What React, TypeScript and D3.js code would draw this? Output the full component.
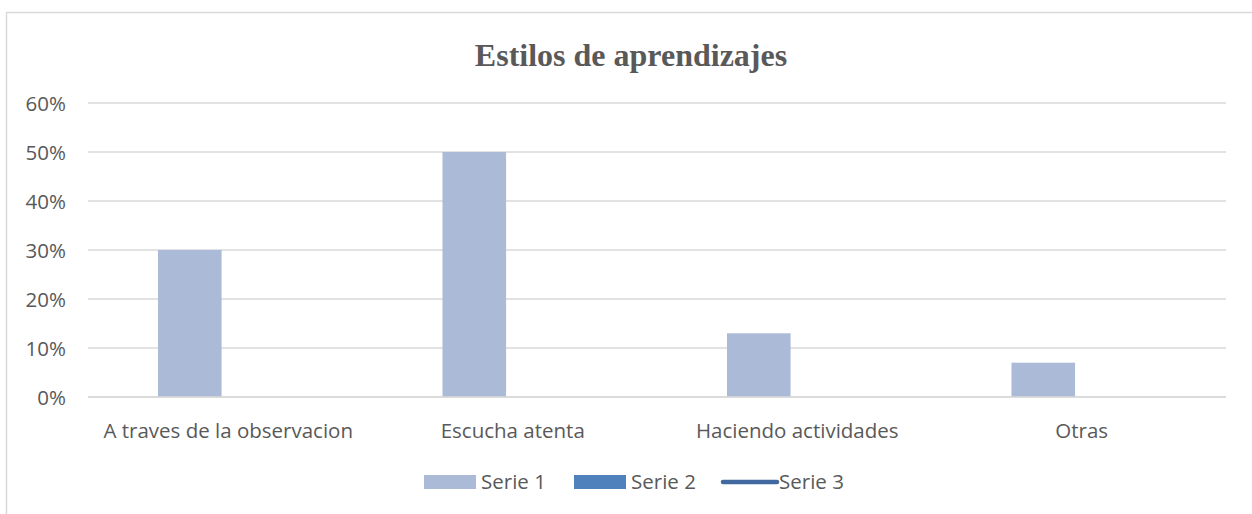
import React, { useRef, useEffect } from 'react';
import * as d3 from 'd3';

const categories = ['A traves de la observacion', 'Escucha atenta', 'Haciendo actividades', 'Otras'];
const serie1 = [0.3, 0.5, 0.13, 0.07];
const seriesNames = ['Serie 1', 'Serie 2', 'Serie 3'];
const yTicks = [0, 0.1, 0.2, 0.3, 0.4, 0.5, 0.6];

const App = () => {
    const svgRef = useRef<SVGSVGElement>(null);
    const width = 1252;
    const height = 514;

    useEffect(() => {
        const svg = d3.select(svgRef.current);
        svg.selectAll('*').remove();

        const font = '"Open Sans", sans-serif';
        const fontSize = 20.5;
        const textColor = '#595959';

        // outer chart border (box runs off the right and bottom edges)
        svg.append('rect')
            .attr('x', 6.5).attr('y', 12.5)
            .attr('width', width + 10).attr('height', height + 10)
            .attr('fill', '#fff').attr('stroke', '#d9d9d9').attr('stroke-width', 1.5);

        svg.append('text')
            .attr('x', 631).attr('y', 66)
            .attr('text-anchor', 'middle')
            .attr('font-family', '"Liberation Serif", "Times New Roman", serif')
            .attr('font-weight', 'bold').attr('font-size', 32)
            .attr('fill', textColor)
            .text('Estilos de aprendizajes');

        const margin = { left: 88, right: 26, top: 103, bottom: 117 };
        const x = d3.scaleBand().domain(categories).range([margin.left, width - margin.right]);
        const y = d3.scaleLinear().domain([0, 0.6]).range([height - margin.bottom, margin.top]);

        // bar slots inside each category band (series 1 & 2 are bars, series 3 a line)
        const bw = x.bandwidth();
        const x1 = d3.scaleBand().domain(['Serie 1', 'Serie 2']).range([bw * 0.246, bw * 0.246 + bw * 0.447]);

        const g = svg.append('g');

        g.selectAll('line.grid')
            .data(yTicks)
            .enter()
            .append('line')
            .attr('x1', margin.left).attr('x2', width - margin.right)
            .attr('y1', (d) => y(d)).attr('y2', (d) => y(d))
            .attr('stroke', '#d9d9d9').attr('stroke-width', 1.5);

        g.selectAll('text.ytick')
            .data(yTicks)
            .enter()
            .append('text')
            .attr('x', 66).attr('y', (d) => y(d) + 1)
            .attr('dy', '0.36em')
            .attr('text-anchor', 'end')
            .attr('font-family', font).attr('font-size', fontSize)
            .attr('fill', textColor)
            .text((d) => d3.format('.0%')(d));

        g.selectAll('rect.bar')
            .data(serie1)
            .enter()
            .append('rect')
            .attr('x', (d, i) => (x(categories[i]) as number) + (x1('Serie 1') as number))
            .attr('y', (d) => y(d))
            .attr('width', x1.bandwidth())
            .attr('height', (d) => y(0) - y(d))
            .attr('fill', '#abbad7');

        // redraw baseline on top
        g.append('line')
            .attr('x1', margin.left).attr('x2', width - margin.right)
            .attr('y1', y(0)).attr('y2', y(0))
            .attr('stroke', '#d9d9d9').attr('stroke-width', 1.5);

        g.selectAll('text.cat')
            .data(categories)
            .enter()
            .append('text')
            .attr('x', (d) => (x(d) as number) + bw / 2 - 2)
            .attr('y', 438)
            .attr('text-anchor', 'middle')
            .attr('font-family', font).attr('font-size', fontSize)
            .attr('fill', textColor)
            .text((d) => d);

        // legend
        const legendX = [424, 574, 722];
        const legend = svg.append('g');
        seriesNames.forEach((name, i) => {
            const lg = legend.append('g').attr('transform', `translate(${legendX[i]}, 482)`);
            if (i === 0) {
                lg.append('rect').attr('x', 0).attr('y', -7).attr('width', 52).attr('height', 14).attr('fill', '#abbad7');
            } else if (i === 1) {
                lg.append('rect').attr('x', 0).attr('y', -7).attr('width', 52).attr('height', 14).attr('fill', '#4f81bd');
            } else {
                lg.append('line').attr('x1', 1).attr('x2', 55).attr('y1', 0).attr('y2', 0)
                    .attr('stroke', '#41699f').attr('stroke-width', 4.5).attr('stroke-linecap', 'round');
            }
            lg.append('text')
                .attr('x', 57).attr('y', 0).attr('dy', '0.36em')
                .attr('font-family', font).attr('font-size', fontSize)
                .attr('fill', textColor)
                .text(name);
        });
    }, []);

    return (
        <svg
            ref={svgRef}
            width={width}
            height={height}
            style={{ position: 'absolute', left: 0, top: 0, display: 'block', background: '#fff' }}
        ></svg>
    );
};

export default App;
